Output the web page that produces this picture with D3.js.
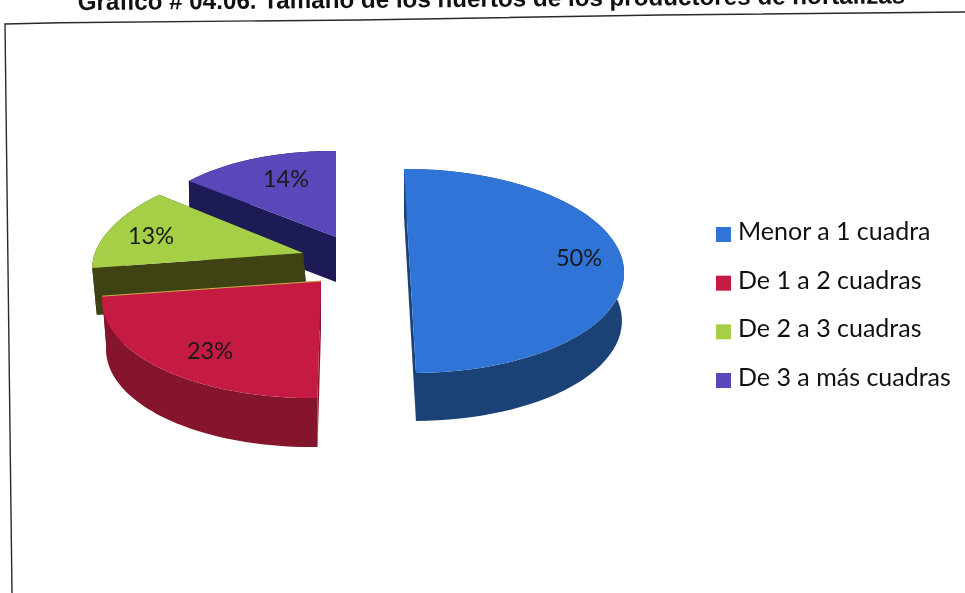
<!DOCTYPE html>
<html><head><meta charset="utf-8">
<script src="https://cdn.jsdelivr.net/npm/d3@7/dist/d3.min.js"></script>
<style>html,body{margin:0;padding:0;background:#fff;overflow:hidden}svg{display:block}</style>
</head><body><svg id="c" width="965" height="593"></svg>
<script>
const title = "Gráfico # 04.06. Tamaño de los huertos de los productores de hortalizas";
const categories = ["Menor a 1 cuadra","De 1 a 2 cuadras","De 2 a 3 cuadras","De 3 a más cuadras"];
const values = [50,23,13,14];
const topColors = ["#2f74d6","#c51a41","#a6cf48","#5a47b9"];
const wallColors = ["#1b4277","#85142d","#3f4313","#1d1b56"];

// Projection of each exploded slice: centre, ellipse axes, perspective k,
// extrusion depth and the horizontal drift of the extruded rim (sx, sk)
const proj = [
  {cx:410,cy:271,ax:214,bx:6,ay:-1,by:102,k:0,d:48,sx:0,sk:-0.01,lx:579,ly:258},
  {cx:321,cy:281,ax:216,bx:-3,ay:-2.4,by:99.5,k:0.15,d:49,sx:0,sk:-0.018,lx:210,ly:351},
  {cx:303,cy:253,ax:209,bx:-27,ay:-3,by:95,k:0,d:47,sx:4.5,sk:0,lx:151,ly:236},
  {cx:336,cy:237,ax:191,bx:0,ay:1.5,by:86,k:0,d:45,sx:0,sk:-0.006,lx:286,ly:179}
];
const svg = d3.select("#c");
const root = svg.append("g").style("filter","blur(0.45px)");
const font = "Lato, 'Open Sans', sans-serif";
const color = d3.scaleOrdinal(categories, topColors);
const wall = d3.scaleOrdinal(categories, wallColors);
const pie = d3.pie().sort(null).value(d=>d.v);
const arcs = pie(categories.map((c,i)=>({c,v:values[i],p:proj[i]})));
const line = d3.line();
const pt = (p,t)=>{
  const w=1+p.k*Math.cos(t);
  return [p.cx+(p.ax*Math.sin(t)-p.bx*Math.cos(t))/w, p.cy+(p.ay*Math.sin(t)-p.by*Math.cos(t))/w];
};
const drop = (p,q)=>[q[0]+p.sx+p.sk*(q[0]-p.cx), q[1]+p.d];
const rim = (p,a,b)=>d3.range(0,61).map(i=>pt(p,a+(b-a)*i/60));

// frame and title
root.append("path").attr("d",line([[12,593],[5,24],[60,22.7],[360,20],[660,15],[965,12]]))
  .attr("fill","none").attr("stroke","#2a2a2a").attr("stroke-width",1.4);
root.append("text").text(title).attr("transform","translate(491.5,6.7) rotate(-0.47)")
  .attr("text-anchor","middle").attr("font-family","'Liberation Sans',Arial,sans-serif").attr("font-weight","bold")
  .attr("font-size",24.2).attr("fill","#111");

// painter's order: back slices first
[3,2,1,0].forEach(i=>{
  const s=arcs[i],p=s.data.p,col=s.data.c,a=s.startAngle,b=s.endAngle,g=root.append("g");
  const c0=[p.cx,p.cy],c1=drop(p,c0),r=rim(p,a,b);
  g.append("path").attr("d",line([pt(p,a),c0,c1,drop(p,pt(p,a))])+"Z").attr("fill",wall(col));
  g.append("path").attr("d",line([pt(p,b),c0,c1,drop(p,pt(p,b))])+"Z").attr("fill",wall(col));
  g.append("path").attr("d",line([...r,...r.slice().reverse().map(q=>drop(p,q))])+"Z").attr("fill",wall(col));
  g.append("path").attr("d",line([c0,...r])+"Z").attr("fill",color(col));
  if(i===1) g.append("path").attr("d",line([pt(p,b),c0])).attr("stroke","#c9b04a").attr("stroke-width",1).attr("fill","none");
});
arcs.forEach(s=>{
  root.append("text").text(Math.round(s.data.v)+"%").attr("x",s.data.p.lx).attr("y",s.data.p.ly+8)
    .attr("text-anchor","middle").attr("font-family",font).attr("font-size",23.5).attr("fill","#1a1a1a");
});

// legend
const legendY = d3.scalePoint().domain(categories).range([240,386]);
categories.forEach(c=>{
  const y=legendY(c);
  root.append("rect").attr("x",716).attr("y",y-13).attr("width",15).attr("height",15).attr("fill",color(c));
  root.append("text").text(c).attr("x",738).attr("y",y).attr("font-family",font).attr("font-size",25).attr("fill","#111");
});
</script></body></html>
